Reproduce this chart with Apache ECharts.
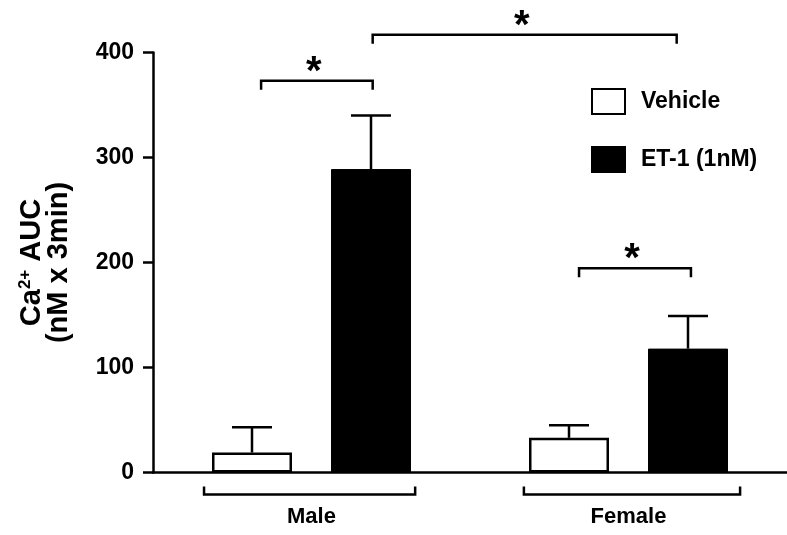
<!DOCTYPE html>
<html>
<head>
<meta charset="utf-8">
<script src="https://cdn.jsdelivr.net/npm/echarts@6/dist/echarts.min.js"></script>
<style>html,body{margin:0;padding:0;background:#fff}#c{width:787px;height:535px}</style>
</head>
<body>
<div id="c"></div>
<script>
// ---- data ----
var categories = ['Male', 'Female'];
var seriesNames = ['Vehicle', 'ET-1 (1nM)'];
var vehicleMean = [19, 33];
var vehicleSem = [24, 12];
var et1Mean = [289, 118];
var et1Sem = [51, 31];
var yTicks = [0, 100, 200, 300, 400];
// significance brackets: [xStart, xEnd, y] in category units / data units
var sigBrackets = [[-0.159, 0.193, 373], [0.193, 1.152, 417], [0.844, 1.197, 194.5]];
var sigLabels = ['*', '*', '*'];
// group brackets under the axis
var groupBrackets = [[-0.339, 0.327, -21], [0.670, 1.352, -21]];

var FONT = 'Liberation Sans, Arial, Helvetica, sans-serif';
var BAR_W = 80, BAR_GAP_PX = 39;
var chart = echarts.init(document.getElementById('c'));

function errData(means, sems) {
  return means.map(function (m, i) { return [i, m, m + sems[i]]; });
}
function errRender(sign) {
  return function (params, api) {
    var x = api.coord([api.value(0), api.value(1)]);
    var top = api.coord([api.value(0), api.value(2)]);
    var cx = x[0] + sign * (BAR_W + BAR_GAP_PX) / 2;
    var st = { stroke: '#000', lineWidth: 2.5 };
    return {
      type: 'group', children: [
        { type: 'line', shape: { x1: cx, y1: x[1], x2: cx, y2: top[1] }, style: st },
        { type: 'line', shape: { x1: cx - 20, y1: top[1], x2: cx + 20, y2: top[1] }, style: st }
      ]
    };
  };
}

var option = {
  backgroundColor: '#fff',
  animation: false,
  grid: { left: 153, right: 0, top: 52.5, bottom: 62.5, containLabel: false, outerBoundsMode: 'none' },
  legend: {
    orient: 'vertical', left: 586, top: 83,
    itemWidth: 33, itemHeight: 25, itemGap: 31,
    icon: 'rect',
    data: seriesNames,
    textStyle: { fontFamily: FONT, fontWeight: 'bold', fontSize: 23, color: '#000', padding: [0, 0, 0, 11] }
  },
  xAxis: [{
    type: 'category', data: categories,
    axisLine: { lineStyle: { color: '#000', width: 2.5 } },
    axisTick: { show: false },
    axisLabel: { margin: 33, fontFamily: FONT, fontWeight: 'bold', fontSize: 22, color: '#000' }
  }, {
    type: 'value', min: -0.5, max: 1.5, show: false
  }],
  yAxis: {
    type: 'value', min: 0, max: 400, interval: 100,
    name: '{b|Ca}{s|2+}{b| AUC}\n{b|(nM x 3min)}',
    nameLocation: 'middle', nameRotate: 90, nameGap: 81,
    nameTextStyle: {
      rich: {
        b: { fontFamily: FONT, fontWeight: 'bold', fontSize: 29, color: '#000', lineHeight: 27 },
        s: { fontFamily: FONT, fontWeight: 'bold', fontSize: 17, color: '#000', padding: [0, 0, 13, 0], lineHeight: 27 }
      }
    },
    axisLine: { show: true, onZero: false, lineStyle: { color: '#000', width: 2.5 } },
    axisTick: { show: true, length: 10, lineStyle: { color: '#000', width: 2.5 } },
    splitLine: { show: false },
    axisLabel: {
      margin: 19, fontFamily: FONT, fontWeight: 'bold', fontSize: 23, color: '#000',
      formatter: function (v) { return yTicks.indexOf(v) >= 0 ? String(v) : ''; }
    }
  },
  series: [
    {
      name: seriesNames[0], type: 'bar', data: vehicleMean, barWidth: BAR_W, barGap: (BAR_GAP_PX / BAR_W * 100) + '%',
      itemStyle: { color: '#fff', borderColor: '#000', borderWidth: 2.5 }
    },
    {
      name: seriesNames[1], type: 'bar', data: et1Mean, barWidth: BAR_W,
      itemStyle: { color: '#000', borderColor: '#000', borderWidth: 1 }
    },
    { type: 'custom', data: errData(vehicleMean, vehicleSem), renderItem: errRender(-1), z: 1, silent: true },
    { type: 'custom', data: errData(et1Mean, et1Sem), renderItem: errRender(1), z: 1, silent: true },
    {
      type: 'custom', xAxisIndex: 1, clip: false, silent: true, z: 5,
      data: sigBrackets.map(function (b, i) { return [b[0], b[1], b[2], i]; }),
      renderItem: function (params, api) {
        var p1 = api.coord([api.value(0), api.value(2)]);
        var p2 = api.coord([api.value(1), api.value(2)]);
        var st = { stroke: '#000', lineWidth: 2.5, fill: null };
        var mid = (p1[0] + p2[0]) / 2;
        return {
          type: 'group', children: [
            { type: 'polyline', shape: { points: [[p1[0], p1[1] + 9], [p1[0], p1[1]], [p2[0], p2[1]], [p2[0], p2[1] + 9]] }, style: st },
            { type: 'text', style: { text: sigLabels[api.value(3)], x: mid - 3, y: p1[1] - 8, textAlign: 'center', textVerticalAlign: 'middle', font: 'bold 40px ' + FONT, fill: '#000' } }
          ]
        };
      }
    },
    {
      type: 'custom', xAxisIndex: 1, clip: false, silent: true, z: 5,
      data: groupBrackets,
      renderItem: function (params, api) {
        var p1 = api.coord([api.value(0), api.value(2)]);
        var p2 = api.coord([api.value(1), api.value(2)]);
        var st = { stroke: '#000', lineWidth: 2.5, fill: null };
        return { type: 'polyline', shape: { points: [[p1[0], p1[1] - 8], [p1[0], p1[1]], [p2[0], p2[1]], [p2[0], p2[1] - 8]] }, style: st };
      }
    }
  ]
};
chart.setOption(option);
</script>
</body>
</html>
